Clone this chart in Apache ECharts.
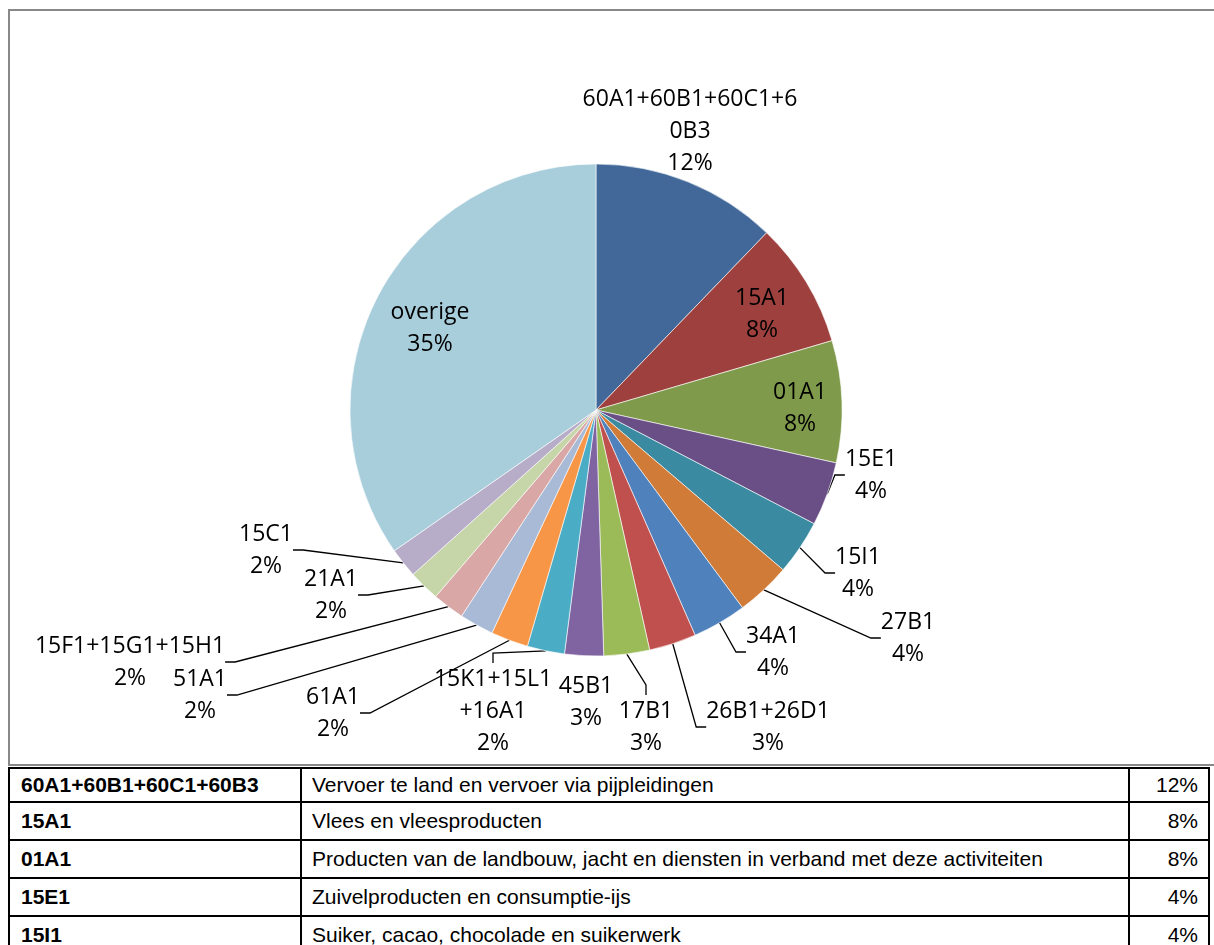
<!DOCTYPE html>
<html>
<head>
<meta charset="utf-8">
<script src="https://cdn.jsdelivr.net/npm/echarts@6/dist/echarts.min.js"></script>
<style>
  html, body { margin: 0; padding: 0; background: #fff; width: 1214px; height: 945px; overflow: hidden; }
  #frame { position: absolute; left: 8px; top: 9px; width: 1220px; height: 757px; border: 2px solid #888; box-sizing: border-box; }
  #chart { position: absolute; left: 0; top: 0; width: 1214px; height: 766px; }
  #codeTable { position: absolute; left: 8px; top: 767px; width: 1200px; border-collapse: collapse; table-layout: fixed;
    font-family: "Liberation Sans", Arial, sans-serif; font-size: 21px; color: #000; }
  #codeTable td { border: 2px solid #000; padding: 0 10px; white-space: nowrap; overflow: hidden; }
  #codeTable td.code { font-weight: bold; padding-left: 11px; }
  #codeTable td.pct { text-align: right; }
</style>
</head>
<body>
<div id="frame"></div>
<div id="chart"></div>
<table id="codeTable">
  <colgroup><col style="width:292px"><col style="width:828px"><col style="width:80px"></colgroup>
  <tbody id="codeRows"></tbody>
</table>
<script>
// Activity codes and their share of the total (percent)
const codes = [
  '60A1+60B1+60C1+60B3', '15A1', '01A1', '15E1', '15I1', '27B1', '34A1',
  '26B1+26D1', '17B1', '45B1', '15K1+15L1+16A1', '61A1', '51A1',
  '15F1+15G1+15H1', '21A1', '15C1', 'overige'
];
const shares = [12.2, 8.25, 8.0, 4.2, 3.6, 3.6, 3.55, 3.1, 3.0, 2.55, 2.45, 2.45, 2.25, 2.1, 2.05, 1.95, 34.7];

// Descriptions for the codes listed in the table under the chart
const descriptions = [
  'Vervoer te land en vervoer via pijpleidingen',
  'Vlees en vleesproducten',
  'Producten van de landbouw, jacht en diensten in verband met deze activiteiten',
  'Zuivelproducten en consumptie-ijs',
  'Suiker, cacao, chocolade en suikerwerk'
];

const sliceColors = [
  '#416899', '#9E413E', '#7F9A4A', '#6A4E86', '#3A8BA2', '#D07B37', '#4F81BD',
  '#C0504D', '#9BBB59', '#8064A2', '#4BACC6', '#F79646', '#A9BAD7',
  '#D9A7A6', '#C6D6A8', '#B8ADC9', '#A8CDDB'
];

// Pie geometry
const CX = 596, CY = 410, R = 246;

// Label centre offsets from the pie centre, per slice
const labelSpots = [
  [94, -279], [166, -96], [204, -2], [275, 65], [262, 163], [312, 228], [177, 242],
  [172, 317], [50, 317], [-10, 292], [-103, 301], [-263, 303], [-396, 285],
  [-466, 252], [-265, 185], [-330, 140], [-166, -82]
];
const insideLabels = ['15A1', '01A1', 'overige'];
const noLeader = ['60A1+60B1+60C1+60B3', '45B1'];
const wrapWidths = { '60A1+60B1+60C1+60B3': 220, '15K1+15L1+16A1': 124 };

const total = shares.reduce((a, b) => a + b, 0);
const pctText = v => Math.round(v * 100 / total) + '%';

const data = codes.map((name, i) => {
  const item = { name, value: shares[i], itemStyle: { color: sliceColors[i] } };
  const label = {};
  if (insideLabels.includes(name)) label.position = 'inside';
  if (wrapWidths[name]) { label.width = wrapWidths[name]; label.overflow = 'breakAll'; }
  item.label = label;
  if (insideLabels.includes(name) || noLeader.includes(name)) item.labelLine = { show: false };
  return item;
});

const chart = echarts.init(document.getElementById('chart'), null, { renderer: 'canvas' });
chart.setOption({
  animation: false,
  series: [{
    type: 'pie',
    center: [CX, CY],
    radius: R,
    startAngle: 90,
    clockwise: true,
    avoidLabelOverlap: false,
    data,
    itemStyle: { borderColor: '#ffffff', borderWidth: 0.6 },
    label: {
      show: true,
      position: 'outside',
      color: '#000',
      fontFamily: '"Open Sans", sans-serif',
      fontSize: 23,
      lineHeight: 32,
      align: 'center',
      formatter: p => p.name + '\n' + pctText(p.value)
    },
    labelLine: {
      show: true,
      length: 10,
      length2: 10,
      lineStyle: { color: '#000', width: 1.3 }
    },
    labelLayout: params => {
      const spot = labelSpots[params.dataIndex];
      return { x: CX + spot[0], y: CY + spot[1], align: 'center', verticalAlign: 'middle' };
    }
  }]
});

// Table rows for the largest codes, percentages taken from the same shares
const rowHeights = [34, 38, 38, 38, 38];
const tbody = document.getElementById('codeRows');
descriptions.forEach((desc, i) => {
  const tr = document.createElement('tr');
  tr.style.height = rowHeights[i] + 'px';
  const c1 = document.createElement('td'); c1.className = 'code'; c1.textContent = codes[i];
  const c2 = document.createElement('td'); c2.textContent = desc;
  const c3 = document.createElement('td'); c3.className = 'pct'; c3.textContent = pctText(shares[i]);
  tr.append(c1, c2, c3);
  tbody.appendChild(tr);
});
</script>
</body>
</html>
